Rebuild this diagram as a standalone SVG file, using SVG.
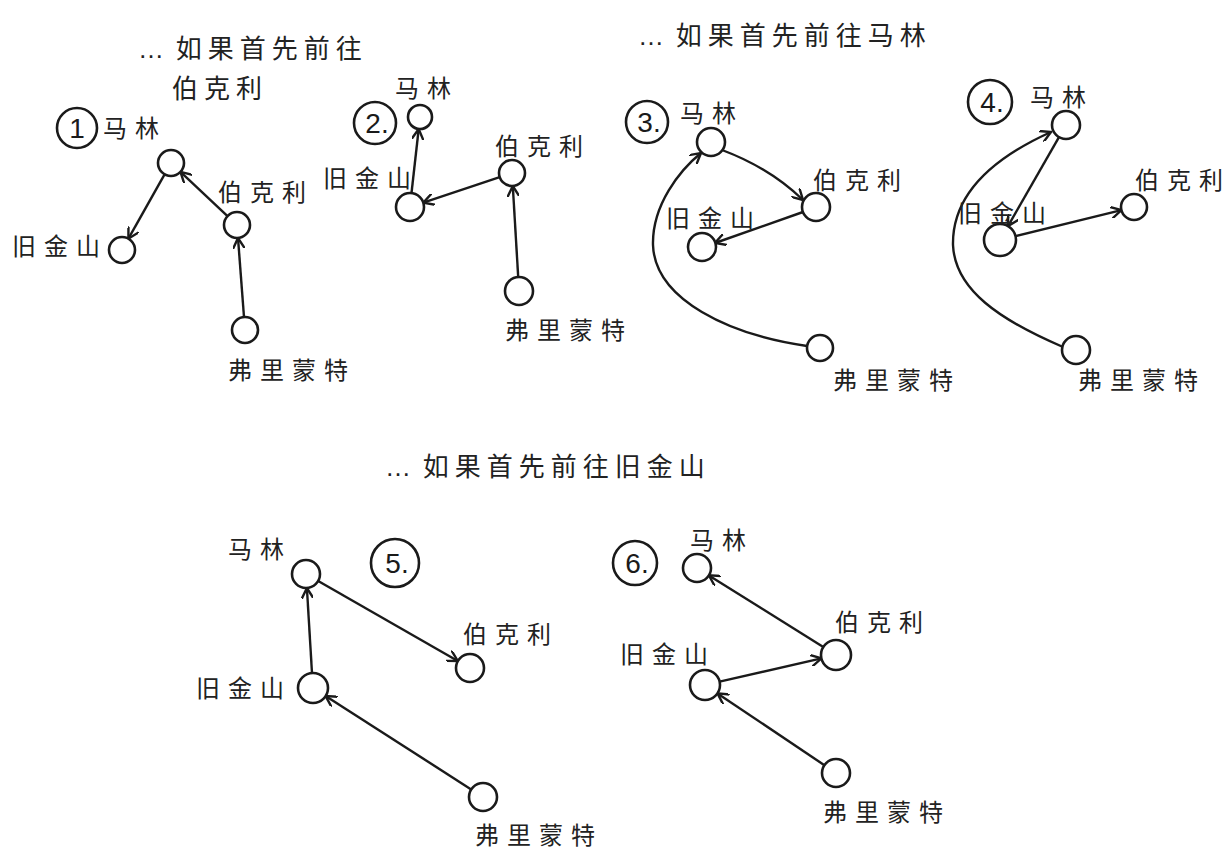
<svg xmlns="http://www.w3.org/2000/svg" width="1232" height="855" viewBox="0 0 1232 855">
<style>
.bg{fill:#fff}
.node{fill:#fff;stroke:#1a1a1a;stroke-width:2.6}
.num{fill:none;stroke:#1a1a1a;stroke-width:2.6}
.lbl{font-family:"Noto Sans CJK SC","Noto Sans",sans-serif;font-size:24px;letter-spacing:8px;fill:#222}
.ttl{font-family:"Noto Sans CJK SC","Noto Sans",sans-serif;font-size:26px;letter-spacing:6px;fill:#222}
.dots{font-family:"Liberation Sans",sans-serif;letter-spacing:0}
.numt{font-family:"Liberation Sans",sans-serif;font-size:28px;fill:#1a1a1a;text-anchor:middle}
.edge{fill:none;stroke:#1a1a1a;stroke-width:2.4;marker-end:url(#arr)}
</style>
<defs>
<marker id="arr" viewBox="0 0 10 10" refX="9" refY="5" markerWidth="12" markerHeight="12" markerUnits="userSpaceOnUse" orient="auto">
<path d="M0,0 L9,5 L0,10" fill="none" stroke="#1a1a1a" stroke-width="2"/>
</marker>
</defs>
<rect class="bg" width="1232" height="855"/>

<g id="titles">
<text class="ttl" x="138" y="58"><tspan class="dots">…</tspan> 如果首先前往</text>
<text class="ttl" x="172" y="98">伯克利</text>
<text class="ttl" x="638" y="45"><tspan class="dots">…</tspan>  如果首先前往马林</text>
<text class="ttl" x="385" y="476"><tspan class="dots">…</tspan> 如果首先前往旧金山</text>
</g>

<g id="numbers">
<g id="num1"><circle class="num" cx="77" cy="128" r="20"/><text class="numt" x="77" y="138">1</text></g>
<g id="num2"><circle class="num" cx="375" cy="123" r="21"/><text class="numt" x="377" y="133">2.</text></g>
<g id="num3"><circle class="num" cx="647" cy="122" r="21"/><text class="numt" x="649" y="132">3.</text></g>
<g id="num4"><circle class="num" cx="990" cy="102" r="22"/><text class="numt" x="992" y="112">4.</text></g>
<g id="num5"><circle class="num" cx="395" cy="563" r="24"/><text class="numt" x="397" y="573">5.</text></g>
<g id="num6"><circle class="num" cx="635" cy="563" r="22"/><text class="numt" x="637" y="573">6.</text></g>
</g>

<g id="connectors">
<!-- graph 1 -->
<path class="edge" d="M164.6,174.3 L128.4,238.7"/>
<path class="edge" d="M227.5,216.1 L180.5,171.9"/>
<path class="edge" d="M244,317 L238,238"/>
<!-- graph 2 -->
<path class="edge" d="M411.5,193 L418.7,129"/>
<path class="edge" d="M499.7,177.1 L423.3,202.6"/>
<path class="edge" d="M518.2,277 L512.8,186"/>
<!-- graph 3 -->
<path class="edge" d="M722,150 Q770,168 803,200"/>
<path class="edge" d="M803,212 L715,243"/>
<path class="edge" d="M807,346 C730,335 655,300 653,245 C652,205 680,170 701,153"/>
<!-- graph 4 -->
<path class="edge" d="M1059,137.1 L1008,226.1"/>
<path class="edge" d="M1015.5,236.2 L1121.4,210.1"/>
<path class="edge" d="M1063,347 C1000,320 955,290 953,245 C952,190 1000,155 1051,132"/>
<!-- graph 5 -->
<path class="edge" d="M312,673 L306.9,588"/>
<path class="edge" d="M318.2,581 L457.8,661"/>
<path class="edge" d="M471.2,789.4 L325.6,696"/>
<!-- graph 6 -->
<path class="edge" d="M823.3,647 L708.9,575.4"/>
<path class="edge" d="M719.6,681.7 L821.4,658.3"/>
<path class="edge" d="M824.4,765.2 L717.5,693.4"/>
</g>

<g id="g1-malin"><circle class="node" cx="171" cy="163" r="13"/><text class="lbl" x="103" y="137">马林</text></g>
<g id="g1-berkeley"><circle class="node" cx="237" cy="225" r="13"/><text class="lbl" x="218" y="201">伯克利</text></g>
<g id="g1-sf"><circle class="node" cx="122" cy="250" r="13"/><text class="lbl" x="12" y="255">旧金山</text></g>
<g id="g1-fremont"><circle class="node" cx="245" cy="330" r="13"/><text class="lbl" x="228" y="379">弗里蒙特</text></g>

<g id="g2-malin"><circle class="node" cx="420" cy="117" r="12"/><text class="lbl" x="395" y="97">马林</text></g>
<g id="g2-berkeley"><circle class="node" cx="512" cy="173" r="13"/><text class="lbl" x="495" y="155">伯克利</text></g>
<g id="g2-sf"><circle class="node" cx="410" cy="207" r="14"/><text class="lbl" x="323" y="187">旧金山</text></g>
<g id="g2-fremont"><circle class="node" cx="519" cy="291" r="14"/><text class="lbl" x="505" y="339">弗里蒙特</text></g>

<g id="g3-malin"><circle class="node" cx="711" cy="142" r="14"/><text class="lbl" x="680" y="122">马林</text></g>
<g id="g3-berkeley"><circle class="node" cx="816" cy="207" r="14"/><text class="lbl" x="813" y="189">伯克利</text></g>
<g id="g3-sf"><circle class="node" cx="702" cy="247" r="14"/><text class="lbl" x="666" y="227">旧金山</text></g>
<g id="g3-fremont"><circle class="node" cx="820" cy="348" r="13"/><text class="lbl" x="833" y="389">弗里蒙特</text></g>

<g id="g4-malin"><circle class="node" cx="1066" cy="125" r="14"/><text class="lbl" x="1030" y="106">马林</text></g>
<g id="g4-berkeley"><circle class="node" cx="1134" cy="207" r="13"/><text class="lbl" x="1135" y="189">伯克利</text></g>
<g id="g4-sf"><circle class="node" cx="1000" cy="240" r="16"/><text class="lbl" x="958" y="222">旧金山</text></g>
<g id="g4-fremont"><circle class="node" cx="1076" cy="350" r="14"/><text class="lbl" x="1078" y="389">弗里蒙特</text></g>

<g id="g5-malin"><circle class="node" cx="306" cy="574" r="14"/><text class="lbl" x="228" y="558">马林</text></g>
<g id="g5-berkeley"><circle class="node" cx="470" cy="668" r="14"/><text class="lbl" x="463" y="643">伯克利</text></g>
<g id="g5-sf"><circle class="node" cx="313" cy="688" r="15"/><text class="lbl" x="196" y="697">旧金山</text></g>
<g id="g5-fremont"><circle class="node" cx="483" cy="797" r="14"/><text class="lbl" x="475" y="844">弗里蒙特</text></g>

<g id="g6-malin"><circle class="node" cx="697" cy="568" r="14"/><text class="lbl" x="690" y="549">马林</text></g>
<g id="g6-berkeley"><circle class="node" cx="836" cy="655" r="15"/><text class="lbl" x="835" y="631">伯克利</text></g>
<g id="g6-sf"><circle class="node" cx="705" cy="685" r="15"/><text class="lbl" x="620" y="663">旧金山</text></g>
<g id="g6-fremont"><circle class="node" cx="836" cy="773" r="14"/><text class="lbl" x="823" y="821">弗里蒙特</text></g>
</svg>
